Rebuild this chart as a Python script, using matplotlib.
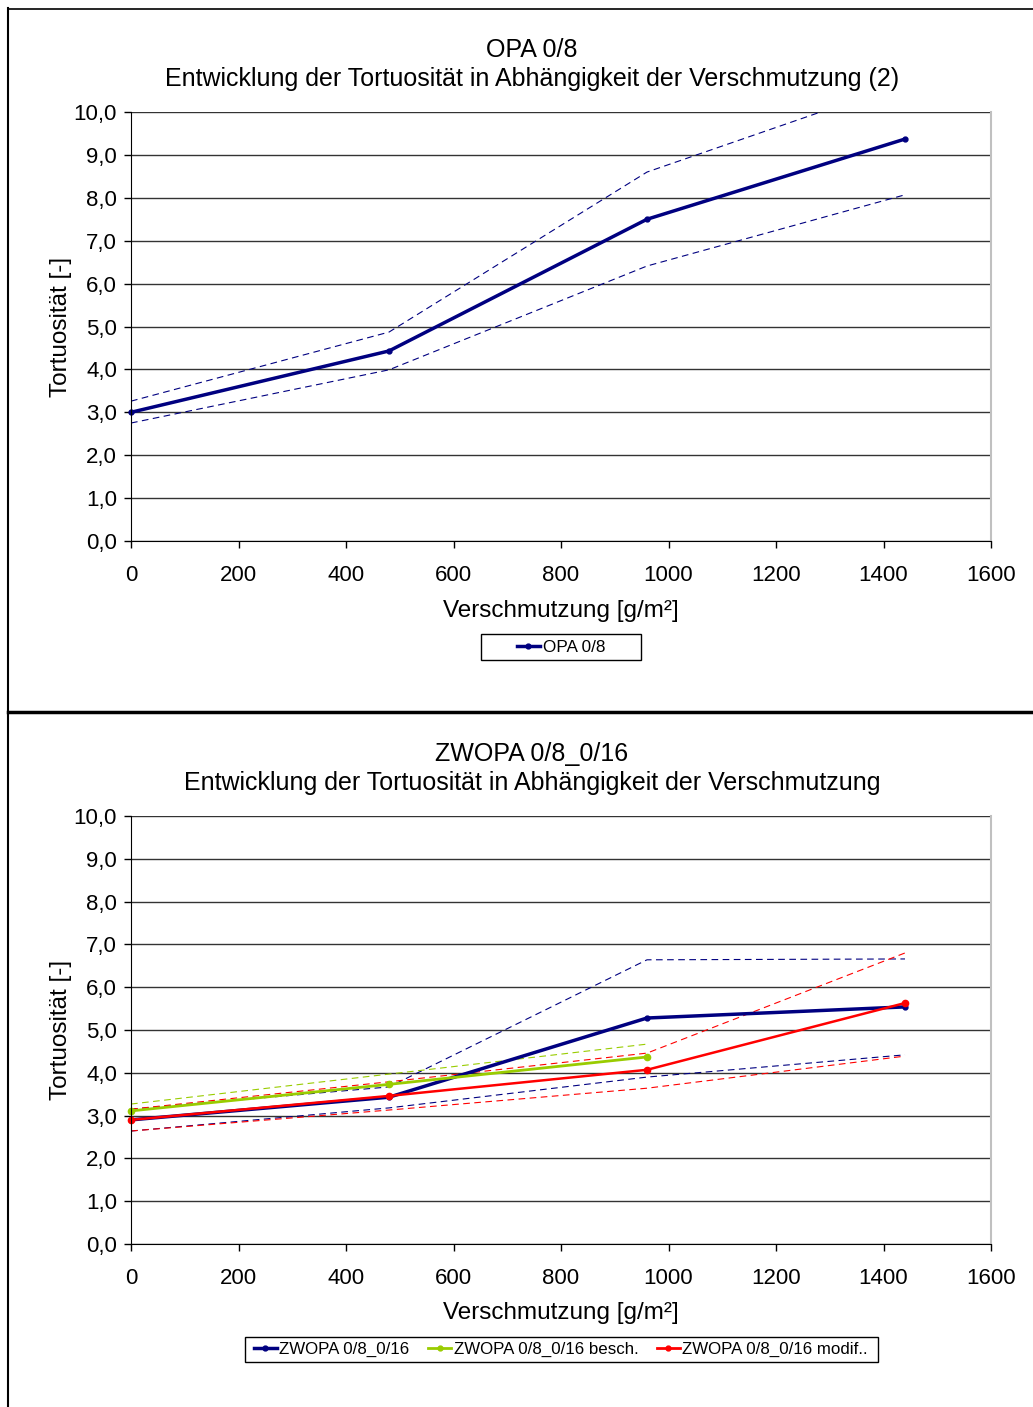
import matplotlib
matplotlib.use("Agg")
import matplotlib.pyplot as plt
from matplotlib.lines import Line2D
from matplotlib.patches import Rectangle

plt.rcParams['font.family'] = ['Liberation Sans', 'DejaVu Sans']

# data
x_pts = [0, 480, 960, 1440]

opa_mean = [3.0, 4.43, 7.5, 9.37]
opa_upper = [3.26, 4.87, 8.6, 10.68]
opa_lower = [2.75, 3.99, 6.41, 8.07]

zw_mean = [2.9, 3.43, 5.28, 5.54]
zw_upper = [3.15, 3.67, 6.64, 6.66]
zw_lower = [2.64, 3.18, 3.90, 4.42]

besch_x = [0, 480, 960]
besch_mean = [3.11, 3.73, 4.37]
besch_upper = [3.27, 3.97, 4.67]

mod_mean = [2.9, 3.46, 4.07, 5.63]
mod_upper = [3.15, 3.79, 4.46, 6.80]
mod_lower = [2.64, 3.13, 3.64, 4.39]

x_ticks = [0, 200, 400, 600, 800, 1000, 1200, 1400, 1600]
y_ticks = [0, 1, 2, 3, 4, 5, 6, 7, 8, 9, 10]
y_labels = [f"{v},0" for v in y_ticks]

navy = '#000080'
green = '#99CC00'
red = '#FF0000'

W, H = 1033, 1407
fig = plt.figure(figsize=(W / 100, H / 100), dpi=100)


def axes_at(left, top, right, bottom):
    return fig.add_axes([left / W, 1 - bottom / H, (right - left) / W, (bottom - top) / H])


def box_at(left, top, right, bottom):
    fig.add_artist(Rectangle((left / W, 1 - bottom / H), (right - left) / W, (bottom - top) / H,
                             transform=fig.transFigure, fill=False, edgecolor='black', lw=1))


def style(ax):
    ax.set_xlim(0, 1600)
    ax.set_ylim(0, 10)
    ax.set_xticks(x_ticks)
    ax.set_yticks(y_ticks)
    ax.set_yticklabels(y_labels)
    ax.tick_params(labelsize=16, length=5, width=1, direction='out')
    ax.tick_params(axis='x', pad=12)
    ax.tick_params(axis='y', pad=5)
    ax.grid(axis='y', color='#333333', linewidth=1)
    ax.set_axisbelow(True)
    ax.spines['top'].set_visible(False)
    ax.spines['right'].set_color('#c0c0c0')
    ax.spines['right'].set_linewidth(1.5)
    ax.spines['left'].set_color('black')
    ax.spines['bottom'].set_color('black')
    ax.set_xlabel('Verschmutzung [g/m²]', fontsize=17.5, labelpad=10)
    ax.set_ylabel('Tortuosität [-]', fontsize=17.5, labelpad=1)


dash = (6, 4)
title_x = (532 - 131) / 860

# top chart
ax1 = axes_at(131, 112, 991, 541)
style(ax1)
ax1.plot(x_pts, opa_upper, color=navy, lw=0.8, dashes=dash)
ax1.plot(x_pts, opa_lower, color=navy, lw=0.8, dashes=dash)
ax1.plot(x_pts, opa_mean, '-o', color=navy, lw=2.5, ms=3.5, clip_on=False)
ax1.set_title('OPA 0/8\nEntwicklung der Tortuosität in Abhängigkeit der Verschmutzung (2)',
              fontsize=18, pad=19, linespacing=1.25, x=title_x)
h1 = [Line2D([], [], color=navy, marker='o', lw=2.5, ms=3.5)]
fig.legend(h1, ['OPA 0/8'], loc='center', bbox_to_anchor=(561 / W, 1 - 647 / H),
           fontsize=12.3, frameon=False, handlelength=1.4, handletextpad=0.15,
           borderpad=0, borderaxespad=0)
box_at(481, 634, 641, 660)

# bottom chart
ax2 = axes_at(131, 816, 991, 1244)
style(ax2)
ax2.plot(x_pts, zw_upper, color=navy, lw=0.8, dashes=dash)
ax2.plot(x_pts, zw_lower, color=navy, lw=0.8, dashes=dash)
ax2.plot(besch_x, besch_upper, color=green, lw=0.8, dashes=dash)
ax2.plot(x_pts, mod_upper, color=red, lw=0.8, dashes=dash)
ax2.plot(x_pts, mod_lower, color=red, lw=0.8, dashes=dash)
ax2.plot(x_pts, zw_mean, '-o', color=navy, lw=2.5, ms=3.5, clip_on=False)
ax2.plot(besch_x, besch_mean, '-o', color=green, lw=2, ms=4.5, clip_on=False)
ax2.plot(x_pts, mod_mean, '-o', color=red, lw=1.8, ms=4.5, clip_on=False)
ax2.set_title('ZWOPA 0/8_0/16\nEntwicklung der Tortuosität in Abhängigkeit der Verschmutzung',
              fontsize=18, pad=19, linespacing=1.25, x=title_x)
h2 = [Line2D([], [], color=navy, marker='o', lw=2.5, ms=3.5),
      Line2D([], [], color=green, marker='o', lw=2, ms=3.5),
      Line2D([], [], color=red, marker='o', lw=2, ms=3.5)]
fig.legend(h2, ['ZWOPA 0/8_0/16', 'ZWOPA 0/8_0/16 besch.', 'ZWOPA 0/8_0/16 modif..'],
           loc='center', bbox_to_anchor=(561 / W, 1 - 1349.5 / H), ncol=3,
           fontsize=12.2, frameon=False, handlelength=1.35, handletextpad=0.15,
           columnspacing=1.1, borderpad=0, borderaxespad=0)
box_at(245, 1337, 878, 1362)

# chart frames
fig.add_artist(Line2D([8 / W, 8 / W], [0, 1 - 8 / H], color='black', lw=1.5))
fig.add_artist(Line2D([8 / W, 1], [1 - 9 / H, 1 - 9 / H], color='black', lw=1.2))
fig.add_artist(Line2D([8 / W, 1], [1 - 712 / H, 1 - 712 / H], color='black', lw=2.5))

fig.savefig('out.png', dpi=100)
